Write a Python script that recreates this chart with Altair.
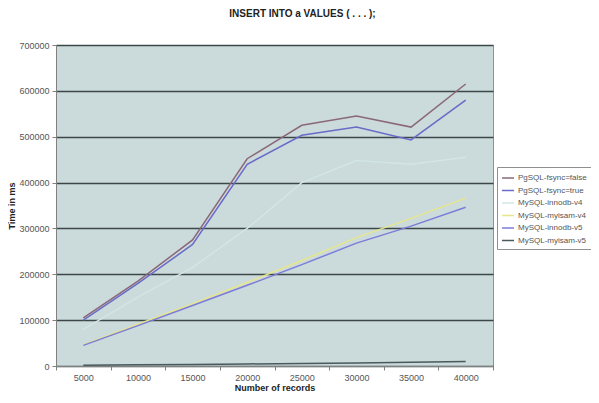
import altair as alt
import pandas as pd

records = [5000, 10000, 15000, 20000, 25000, 30000, 35000, 40000]
series_names = ["PgSQL-fsync=false", "PgSQL-fsync=true", "MySQL-innodb-v4",
                "MySQL-myisam-v4", "MySQL-innodb-v5", "MySQL-myisam-v5"]
pg_fsync_false = [105000, 185000, 275000, 452000, 525000, 545000, 521000, 615000]
pg_fsync_true = [100000, 180000, 265000, 440000, 503000, 521000, 493000, 580000]
my_innodb_v4 = [80000, 150000, 215000, 300000, 400000, 448000, 440000, 455000]
my_myisam_v4 = [46000, 91000, 136000, 182000, 230000, 280000, 322000, 366000]
my_innodb_v5 = [45000, 88000, 132000, 176000, 221000, 268000, 305000, 346000]
my_myisam_v5 = [1500, 2500, 3500, 4500, 5500, 6500, 8000, 10000]
colors = ["#8a6878", "#6a6ac8", "#d2e6e4", "#e6e68c", "#7c7cd8", "#4a5a5a"]
y_ticks = [0, 100000, 200000, 300000, 400000, 500000, 600000, 700000]

values = [pg_fsync_false, pg_fsync_true, my_innodb_v4, my_myisam_v4, my_innodb_v5, my_myisam_v5]
rows = []
for name, vals in zip(series_names, values):
    for r, v in zip(records, vals):
        rows.append({"records": r, "time": v, "series": name})
df = pd.DataFrame(rows)

FONT = "Liberation Sans"

chart = alt.Chart(df).mark_line(strokeWidth=1.5).encode(
    x=alt.X("records:O", title="Number of records",
            scale=alt.Scale(type="band", paddingInner=0, paddingOuter=0),
            axis=alt.Axis(labelAngle=0, tickBand="extent", labelFontSize=9,
                          labelColor="#555555", labelFont=FONT, titleFont=FONT,
                          titleFontSize=9, titleFontWeight="bold", titleColor="#222222",
                          domainColor="#808080", tickColor="#808080", tickSize=4,
                          titlePadding=1, labelPadding=3, grid=False)),
    y=alt.Y("time:Q", title="Time in ms",
            scale=alt.Scale(domain=[0, 700000], nice=False),
            axis=alt.Axis(values=y_ticks, format="d", labelFontSize=9, labelColor="#555555",
                          labelFont=FONT, titleFont=FONT, titleFontSize=9,
                          titleFontWeight="bold", titleColor="#222222",
                          domainColor="#808080", tickColor="#808080", tickSize=4,
                          grid=True, gridColor="#3c4848", gridWidth=1.5,
                          titlePadding=2, labelPadding=3)),
    color=alt.Color("series:N", sort=series_names,
                    scale=alt.Scale(domain=series_names, range=colors),
                    legend=alt.Legend(title=None, orient="none", legendX=441, legendY=122,
                                      symbolType="stroke", symbolSize=144,
                                      symbolStrokeWidth=1.5, labelFontSize=8,
                                      labelFont=FONT, labelColor="#555555",
                                      labelOffset=3,
                                      fillColor="white", strokeColor="#909090",
                                      padding=4, rowPadding=1.5)),
).properties(
    width=437,
    height=321,
    autosize=alt.AutoSizeParams(type="none"),
    padding={"left": 48, "top": 37, "right": 98, "bottom": 29},
    title=alt.Title("INSERT INTO a VALUES ( . . . );", font=FONT, fontSize=10,
                    fontWeight="bold", color="#222222", anchor="middle",
                    offset=22, dx=28),
).configure(
    background="white"
).configure_view(
    fill="#cbdadb", stroke="#909090", strokeWidth=1
)

chart.save("out.html", embed_options={"renderer": "svg", "actions": False})
